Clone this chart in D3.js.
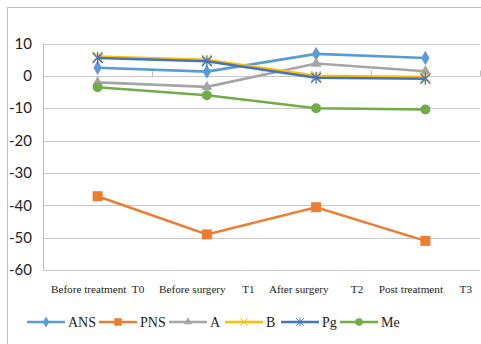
<!DOCTYPE html>
<html><head><meta charset="utf-8">
<script src="https://cdn.jsdelivr.net/npm/d3@7"></script>
<style>body{margin:0;background:#fff}</style>
</head><body>
<svg id="c" width="481" height="344"></svg>
<script>
const categories = ["Before treatment  T0", "Before surgery      T1", "After surgery        T2", "Post treatment      T3"];
const seriesNames = ["ANS", "PNS", "A", "B", "Pg", "Me"];
const ANS = [2.5, 1.3, 6.8, 5.5];
const PNS = [-37.2, -49, -40.6, -51];
const A = [-2, -3.4, 3.8, 1.4];
const B = [6, 5, 0, -0.4];
const Pg = [5.5, 4.5, -0.6, -0.9];
const Me = [-3.5, -6, -10, -10.4];
const yTicks = [10, 0, -10, -20, -30, -40, -50, -60];
const colors = ["#5B9BD5", "#ED7D31", "#A5A5A5", "#FFC000", "#4472C4", "#70AD47"];
const markers = ["diamond", "square", "triangle", "x", "star", "circle"];
const data = [ANS, PNS, A, B, Pg, Me];

const svg = d3.select("#c");
svg.append("rect").attr("x",7.5).attr("y",7.5).attr("width",490).attr("height",350)
  .attr("fill","none").attr("stroke","#bfbfbf");

const L = 43, R = 480, T = 43.5, Bm = 270;
const x = d3.scaleBand().domain(categories).range([L, R]);
const y = d3.scaleLinear().domain([-60, 10]).range([Bm, T]);

svg.append("g").selectAll("line").data(yTicks).join("line")
  .attr("x1", L).attr("x2", R).attr("y1", d=>Math.round(y(d))+0.5).attr("y2", d=>Math.round(y(d))+0.5)
  .attr("stroke", "#c8c8c8").attr("stroke-width", 1);
svg.append("line").attr("x1",L+0.5).attr("x2",L+0.5).attr("y1",y(10)).attr("y2",y(-60)).attr("stroke","#bfbfbf");
const y0 = Math.round(y(0))+0.5;
const bounds = categories.map((c,i)=>x(c)+x.bandwidth()).concat([L]);
svg.append("g").selectAll("line").data(bounds).join("line")
  .attr("x1", d=>Math.round(d)+0.5).attr("x2", d=>Math.round(d)+0.5)
  .attr("y1", y0-6).attr("y2", y0).attr("stroke", "#bfbfbf");

svg.append("g").selectAll("text").data(yTicks).join("text")
  .attr("x", 32).attr("y", d=>y(d)).attr("dy","0.35em").attr("text-anchor","end")
  .attr("font-family","Lato, 'Open Sans', sans-serif").attr("font-size",15).attr("fill","#222")
  .text(d=>d);

svg.append("g").selectAll("text").data(categories).join("text")
  .attr("x", d=>x(d)+x.bandwidth()/2).attr("y", 293).attr("text-anchor","middle")
  .attr("font-family","'Liberation Serif', serif").attr("font-size",11.2).attr("fill","#222")
  .attr("xml:space","preserve").style("white-space","pre")
  .text(d=>d);

function drawMarker(g, type, color, cx, cy) {
  if (type === "diamond") {
    g.append("path").attr("d", d3.symbol(d3.symbolDiamond, 60)()).attr("transform",`translate(${cx},${cy})`).attr("fill",color);
  } else if (type === "square") {
    g.append("rect").attr("x",cx-5).attr("y",cy-5).attr("width",10).attr("height",10).attr("fill",color);
  } else if (type === "triangle") {
    g.append("path").attr("d", d3.symbol(d3.symbolTriangle, 50)()).attr("transform",`translate(${cx},${cy})`).attr("fill",color);
  } else if (type === "x") {
    g.append("path").attr("d",`M${cx-5},${cy-5}L${cx+5},${cy+5}M${cx-5},${cy+5}L${cx+5},${cy-5}`).attr("stroke",color).attr("stroke-width",1.3);
  } else if (type === "star") {
    g.append("path").attr("d",`M${cx-5},${cy-5}L${cx+5},${cy+5}M${cx-5},${cy+5}L${cx+5},${cy-5}M${cx},${cy-6}L${cx},${cy+6}`).attr("stroke",color).attr("stroke-width",1.3);
  } else if (type === "circle") {
    g.append("circle").attr("cx",cx).attr("cy",cy).attr("r",5).attr("fill",color);
  }
}

const line = d3.line().x((d,i)=>x(categories[i])+x.bandwidth()/2).y(d=>y(d));
data.forEach((vals, si) => {
  const g = svg.append("g");
  g.append("path").attr("d", line(vals)).attr("fill","none").attr("stroke",colors[si]).attr("stroke-width",2.6);
  vals.forEach((v,i)=> drawMarker(g, markers[si], colors[si], x(categories[i])+x.bandwidth()/2, y(v)));
});

const legX = [27, 99, 169, 225, 281, 340];
const leg = svg.append("g");
seriesNames.forEach((n, i) => {
  const lx = legX[i], ly = 322;
  leg.append("line").attr("x1",lx).attr("x2",lx+38).attr("y1",ly).attr("y2",ly).attr("stroke",colors[i]).attr("stroke-width",2.6);
  const lg = leg.append("g");
  drawMarker(lg, markers[i], colors[i], lx+19, ly);
  lg.attr("transform", `translate(${(lx+19)*0.25},${ly*0.25}) scale(0.75)`);
  leg.append("text").attr("x",lx+41).attr("y",ly).attr("dy","0.35em")
    .attr("font-family","'Liberation Serif', serif").attr("font-size",14).attr("fill","#222").text(n);
});
</script>
</body></html>
